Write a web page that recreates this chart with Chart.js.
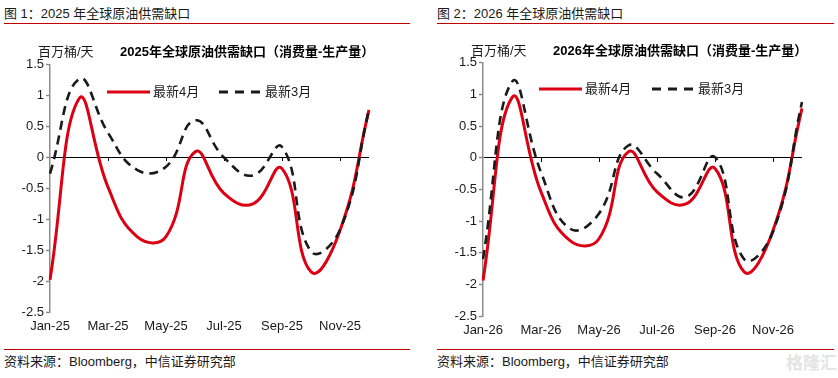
<!DOCTYPE html>
<html><head><meta charset="utf-8">
<script src="https://cdn.jsdelivr.net/npm/chart.js@4.4.1/dist/chart.umd.min.js"></script>
<style>
html,body{margin:0;padding:0;background:#fff;width:838px;height:378px;overflow:hidden;font-family:"Liberation Sans",Arial,"Noto Sans CJK SC",sans-serif;color:#1a1a1a;}
.abs{position:absolute;white-space:nowrap;}
.cap{font-size:13px;line-height:16px;}
.rule{position:absolute;height:0;border-top:1.5px solid #c00000;}
.ttl{font-size:13px;font-weight:bold;line-height:16px;color:#000;}
.unit{font-size:13px;line-height:16px;}
.leg{font-size:13px;line-height:16px;}
.wm{font-size:17px;font-weight:bold;color:#e4e4e4;line-height:20px;}
svg.abs{overflow:visible;}
</style></head>
<body>
<div class="abs cap" style="left:4px;top:6px">图 1：2025 年全球原油供需缺口</div>
<div class="rule" style="left:4px;top:23px;width:406px"></div>
<div class="abs cap" style="left:437px;top:6px">图 2：2026 年全球原油供需缺口</div>
<div class="rule" style="left:437px;top:23px;width:397px"></div>

<div class="abs" style="left:0;top:55px;width:419px;height:287px"><canvas id="c1" width="419" height="287"></canvas></div>
<div class="abs" style="left:430px;top:53px;width:408px;height:293px"><canvas id="c2" width="408" height="293"></canvas></div>

<div class="abs unit" style="left:38px;top:44px">百万桶/天</div>
<div class="abs ttl" style="left:120px;top:44px">2025年全球原油供需缺口（消费量-生产量）</div>
<div class="abs unit" style="left:471px;top:43px">百万桶/天</div>
<div class="abs ttl" style="left:553px;top:43px">2026年全球原油供需缺口（消费量-生产量）</div>
<div id="legends"></div>

<div class="rule" style="left:4px;top:349px;width:406px"></div>
<div class="rule" style="left:437px;top:349px;width:397px"></div>
<div class="abs cap" style="left:4px;top:354px">资料来源：Bloomberg，中信证券研究部</div>
<div class="abs cap" style="left:437px;top:354px">资料来源：Bloomberg，中信证券研究部</div>
<div class="abs wm" style="left:786px;top:354px">格隆汇</div>

<script>
// ---- data ----
const months2025 = ['Jan-25','Feb-25','Mar-25','Apr-25','May-25','Jun-25','Jul-25','Aug-25','Sep-25','Oct-25','Nov-25','Dec-25'];
const months2026 = ['Jan-26','Feb-26','Mar-26','Apr-26','May-26','Jun-26','Jul-26','Aug-26','Sep-26','Oct-26','Nov-26','Dec-26'];
const seriesNames = ['最新4月','最新3月'];
const gap2025Apr = [-1.98, 0.95, -0.48, -1.28, -1.28, 0.09, -0.58, -0.75, -0.18, -1.85, -1.18, 0.77];
const gap2025Mar = [-0.26, 1.27, 0.40, -0.20, -0.15, 0.60, 0.00, -0.29, 0.17, -1.52, -1.17, 0.77];
const gap2026Apr = [-1.94, 0.95, -0.54, -1.31, -1.28, 0.09, -0.54, -0.73, -0.17, -1.80, -1.15, 0.78];
const gap2026Mar = [-1.60, 1.20, -0.23, -1.12, -0.88, 0.19, -0.25, -0.62, 0.01, -1.60, -1.17, 0.88];
const yTickStep = 0.5, yMin = -2.5, yMax = 1.5;

const FONT = '"Liberation Sans", Arial, "Noto Sans CJK SC", sans-serif';
const TXT = '#1a1a1a';
const RED = '#dc0014', DARK = '#1a1a1a';

const zeroTicks = {
  id: 'zeroTicks',
  beforeDatasetsDraw(chart) {
    const {ctx, scales: {x, y}} = chart;
    const y0 = Math.round(y.getPixelForValue(0));
    ctx.save();
    ctx.strokeStyle = '#000';
    ctx.lineWidth = 1;
    ctx.beginPath();
    for (let i = 2; i < chart.data.labels.length; i += 2) {
      const px = Math.round(x.getPixelForValue(i)) + 0.5;
      ctx.moveTo(px, y0);
      ctx.lineTo(px, y0 + 4);
    }
    ctx.stroke();
    ctx.restore();
  }
};

function addLegend(items) {
  const host = document.getElementById('legends');
  items.forEach(it => {
    const svg = document.createElementNS('http://www.w3.org/2000/svg', 'svg');
    svg.setAttribute('class', 'abs');
    svg.setAttribute('width', 43); svg.setAttribute('height', 6);
    svg.style.left = it.x + 'px'; svg.style.top = (it.y - 3) + 'px';
    const ln = document.createElementNS('http://www.w3.org/2000/svg', 'line');
    ln.setAttribute('x1', 0); ln.setAttribute('x2', 43);
    ln.setAttribute('y1', 3); ln.setAttribute('y2', 3);
    ln.setAttribute('stroke', it.color); ln.setAttribute('stroke-width', it.w);
    if (it.dash) ln.setAttribute('stroke-dasharray', it.dash);
    svg.appendChild(ln);
    host.appendChild(svg);
    const t = document.createElement('div');
    t.className = 'abs leg';
    t.style.left = (it.x + 46) + 'px'; t.style.top = (it.y - 8) + 'px';
    t.textContent = it.text;
    host.appendChild(t);
  });
}
addLegend([
  {x: 107, y: 92, color: RED, w: 3, text: seriesNames[0]},
  {x: 219, y: 92, color: DARK, w: 3, dash: '9 7', text: seriesNames[1]},
  {x: 539, y: 89, color: RED, w: 3, text: seriesNames[0]},
  {x: 652, y: 89, color: DARK, w: 3, dash: '9 7', text: seriesNames[1]}
]);

function makeChart(id, labels, aprVals, marVals, padRight, yWidth) {
  return new Chart(document.getElementById(id), {
    type: 'line',
    data: {
      labels: labels,
      datasets: [
        {label: seriesNames[0], data: aprVals, borderColor: RED, backgroundColor: RED,
         borderWidth: 3, pointRadius: 0, tension: 0.45, order: 2},
        {label: seriesNames[1], data: marVals, borderColor: DARK, backgroundColor: DARK,
         borderWidth: 2.6, borderDash: [9, 6], pointRadius: 0, tension: 0.45, order: 1}
      ]
    },
    options: {
      responsive: false,
      animation: false,
      layout: {padding: {left: 0, top: 5, right: padRight, bottom: 0}},
      plugins: {
        tooltip: {enabled: false},
        legend: {display: false}
      },
      scales: {
        x: {
          type: 'category', offset: false,
          grid: {display: false, drawTicks: false},
          border: {display: false},
          ticks: {
            autoSkip: false, maxRotation: 0, minRotation: 0, padding: 7,
            color: TXT, font: {size: 13, family: FONT},
            callback: function (v, i) { return i % 2 === 0 ? this.getLabelForValue(v) : ''; }
          },
          afterFit(s) { s.height = 30; }
        },
        y: {
          min: yMin, max: yMax,
          ticks: {stepSize: yTickStep, padding: 2, color: TXT, font: {size: 13, family: FONT},
                  callback: (v) => String(Number(Number(v).toFixed(1)))},
          grid: {
            drawTicks: true, tickLength: 4, tickColor: '#8c8c8c', tickWidth: 1.5,
            lineWidth: 1,
            color: (c) => (c.tick && c.tick.value === 0) ? '#000' : 'rgba(0,0,0,0)'
          },
          border: {color: '#8c8c8c', width: 1.5},
          afterFit(s) { s.width = yWidth; }
        }
      }
    },
    plugins: [zeroTicks]
  });
}

makeChart('c1', months2025, gap2025Apr, gap2025Mar, 50, 50);
makeChart('c2', months2026, gap2026Apr, gap2026Mar, 36, 53);
</script>
</body></html>
